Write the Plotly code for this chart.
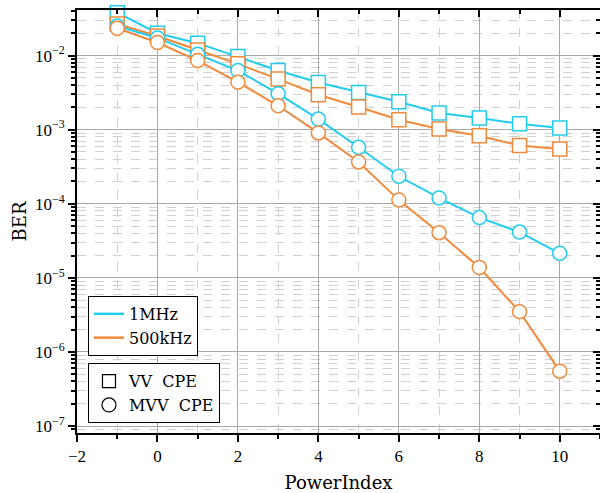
import plotly.graph_objects as go

# Power index sweep
power_index = [-1, 0, 1, 2, 3, 4, 5, 6, 7, 8, 9, 10]

# BER for the VV CPE estimator
ber_vv_1mhz = [0.0379, 0.0200, 0.0147, 0.0097, 0.00628, 0.00433, 0.00318,
               0.00238, 0.00168, 0.00144, 0.00120, 0.00105]
ber_vv_500khz = [0.0267, 0.0184, 0.0119, 0.00773, 0.00481, 0.00296, 0.00202,
                 0.00136, 0.00102, 0.00083, 0.00061, 0.00055]

# BER for the MVV CPE estimator
ber_mvv_1mhz = [0.0250, 0.0173, 0.0104, 0.00628, 0.00306, 0.00139, 0.000578,
                0.000235, 0.000120, 6.5e-5, 4.15e-5, 2.14e-5]
ber_mvv_500khz = [0.0234, 0.0150, 0.00857, 0.00438, 0.00210, 0.000904, 0.000367,
                  0.000112, 4.07e-5, 1.38e-5, 3.5e-6, 5.5e-7]

# Axis ticks
x_ticks = [-2, 0, 2, 4, 6, 8, 10]
x_tick_text = ["\u22122", "0", "2", "4", "6", "8", "10"]
y_ticks = [1e-7, 1e-6, 1e-5, 1e-4, 1e-3, 1e-2]
y_tick_text = ["10<sup>\u22127</sup>", "10<sup>\u22126</sup>", "10<sup>\u22125</sup>",
               "10<sup>\u22124</sup>", "10<sup>\u22123</sup>", "10<sup>\u22122</sup>"]

CYAN = "#22CCEE"
ORANGE = "#F08A3C"
TICK_FONT = "Liberation Serif"
TEXT_FONT = "DejaVu Serif"

fig = go.Figure()

series = [
    (ber_vv_1mhz, CYAN, "square"),
    (ber_vv_500khz, ORANGE, "square"),
    (ber_mvv_1mhz, CYAN, "circle"),
    (ber_mvv_500khz, ORANGE, "circle"),
]
for ys, col, sym in series:
    fig.add_trace(go.Scatter(
        x=power_index, y=ys, mode="lines+markers",
        line=dict(color=col, width=2),
        marker=dict(symbol=sym, size=14, color="white",
                    line=dict(color=col, width=1.5)),
        showlegend=False, cliponaxis=False,
    ))

# Legend entries: line colours (bandwidth) and marker shapes (estimator)
fig.add_trace(go.Scatter(x=[None], y=[None], mode="lines", name="1MHz",
                         line=dict(color=CYAN, width=2.5), legend="legend"))
fig.add_trace(go.Scatter(x=[None], y=[None], mode="lines", name="500kHz",
                         line=dict(color=ORANGE, width=2.5), legend="legend"))
fig.add_trace(go.Scatter(x=[None], y=[None], mode="markers", name="VV  CPE",
                         marker=dict(symbol="square-open", size=13, color="black",
                                     line=dict(width=1.2)), legend="legend2"))
fig.add_trace(go.Scatter(x=[None], y=[None], mode="markers", name="MVV  CPE",
                         marker=dict(symbol="circle-open", size=14, color="black",
                                     line=dict(width=1.2)), legend="legend2"))

# Invisible trace to carry the top/right mirror axes
fig.add_trace(go.Scatter(x=[None], y=[None], xaxis="x2", yaxis="y2",
                         showlegend=False, hoverinfo="skip"))

x_range = [-2, 11]
y_range = [-7.094, -1.385]

fig.update_layout(
    width=600, height=493,
    margin=dict(l=77, r=0, t=10, b=60),
    paper_bgcolor="white", plot_bgcolor="white",
    font=dict(family=TICK_FONT, size=17, color="black"),
    xaxis=dict(
        range=x_range, tickvals=x_ticks, ticktext=x_tick_text,
        ticks="outside", ticklen=7, tickwidth=2, tickcolor="black",
        showline=True, linecolor="black", linewidth=2,
        showgrid=True, gridcolor="#A8A8A8", gridwidth=1.2,
        zeroline=False,
        minor=dict(dtick=1, tick0=0, ticks="outside", ticklen=4, tickwidth=2,
                   tickcolor="black", showgrid=True, gridcolor="#D0D0D0",
                   griddash="dash", gridwidth=1),
        title=dict(text="PowerIndex", font=dict(size=18, family=TEXT_FONT),
                   standoff=12),
        tickfont=dict(size=17),
    ),
    yaxis=dict(
        type="log", range=y_range, tickvals=y_ticks, ticktext=y_tick_text,
        ticks="outside", ticklen=7, tickwidth=2, tickcolor="black",
        showline=True, linecolor="black", linewidth=2,
        showgrid=True, gridcolor="#A8A8A8", gridwidth=1.2,
        zeroline=False,
        minor=dict(dtick="D1", ticks="outside", ticklen=4, tickwidth=2,
                   tickcolor="black", showgrid=True, gridcolor="#D0D0D0",
                   griddash="dash", gridwidth=1),
        title=dict(text="BER", font=dict(size=18, family=TEXT_FONT), standoff=4),
        tickfont=dict(size=17),
    ),
    xaxis2=dict(
        overlaying="x", side="top", range=x_range, tickvals=x_ticks,
        showticklabels=False, ticks="inside", ticklen=7, tickwidth=2,
        tickcolor="black", showline=True, linecolor="black", linewidth=2,
        showgrid=False, zeroline=False,
        minor=dict(dtick=1, tick0=0, ticks="inside", ticklen=4, tickwidth=2,
                   tickcolor="black", showgrid=False),
    ),
    yaxis2=dict(
        overlaying="y", side="right", type="log", range=y_range,
        tickvals=y_ticks, showticklabels=False, ticks="inside", ticklen=7,
        tickwidth=2, tickcolor="black", showline=True, linecolor="black",
        linewidth=2, showgrid=False, zeroline=False,
        minor=dict(dtick="D1", ticks="inside", ticklen=4, tickwidth=2,
                   tickcolor="black", showgrid=False),
    ),
    legend=dict(
        x=0.021, y=0.324, xanchor="left", yanchor="top",
        bgcolor="white", bordercolor="black", borderwidth=1,
        font=dict(size=16, family=TEXT_FONT), tracegroupgap=0,
        itemwidth=30,
    ),
    legend2=dict(
        x=0.021, y=0.165, xanchor="left", yanchor="top",
        bgcolor="white", bordercolor="black", borderwidth=1,
        font=dict(size=16, family=TEXT_FONT), tracegroupgap=0,
        itemwidth=30,
    ),
)

fig.write_html("out.html")
